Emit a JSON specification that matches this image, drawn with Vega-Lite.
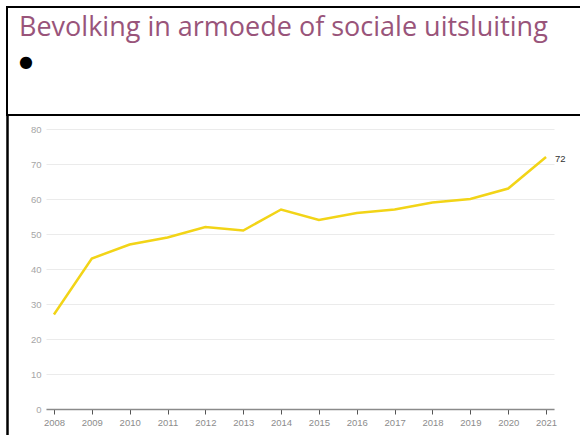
{
  "$schema": "https://vega.github.io/schema/vega-lite/v6.json",
  "padding": {"left": 6, "top": 6, "right": 0, "bottom": 0},
  "background": "white",
  "spacing": 0,
  "bounds": "flush",
  "config": {
    "view": {"stroke": null},
    "font": "Liberation Sans"
  },
  "vconcat": [
    {
      "width": 620,
      "height": 108,
      "data": {"values": []},
      "mark": {"type": "rule"},
      "encoding": {},
      "view": {"stroke": "black", "strokeWidth": 2},
      "title": {
        "text": "Bevolking in armoede of sociale uitsluiting",
        "subtitle": "●",
        "anchor": "start",
        "frame": "group",
        "orient": "top",
        "offset": -64,
        "dx": 12,
        "font": "Open Sans",
        "fontSize": 27,
        "fontWeight": "normal",
        "color": "#99547a",
        "subtitleFont": "DejaVu Sans",
        "subtitleFontSize": 16,
        "subtitleColor": "black",
        "subtitlePadding": 12
      }
    },
    {
      "hconcat": [
        {
          "width": 1,
          "height": 340,
          "data": {"values": []},
          "mark": {"type": "rule"},
          "encoding": {},
          "view": {"stroke": "black", "strokeWidth": 1.5}
        },
        {
          "vconcat": [
            {
              "width": 508,
              "height": 1,
              "data": {"values": []},
              "mark": {"type": "rule"},
              "encoding": {}
            },
            {
              "width": 508,
              "height": 280,
              "data": {
                "values": [
                  {"year": 2008, "value": 27},
                  {"year": 2009, "value": 43},
                  {"year": 2010, "value": 47},
                  {"year": 2011, "value": 49},
                  {"year": 2012, "value": 52},
                  {"year": 2013, "value": 51},
                  {"year": 2014, "value": 57},
                  {"year": 2015, "value": 54},
                  {"year": 2016, "value": 56},
                  {"year": 2017, "value": 57},
                  {"year": 2018, "value": 59},
                  {"year": 2019, "value": 60},
                  {"year": 2020, "value": 63},
                  {"year": 2021, "value": 72}
                ]
              },
              "encoding": {
                "x": {
                  "field": "year",
                  "type": "ordinal",
                  "scale": {"type": "point", "padding": 0.21},
                  "axis": {
                    "title": null,
                    "labelAngle": 0,
                    "labelFontSize": 9.5,
                    "labelColor": "#8c8c8c",
                    "labelPadding": 3,
                    "domainColor": "#8a8a8a",
                    "domainWidth": 1.5,
                    "tickColor": "#555",
                    "tickSize": 5,
                    "grid": false
                  }
                },
                "y": {
                  "field": "value",
                  "type": "quantitative",
                  "scale": {"domain": [0, 80]},
                  "axis": {
                    "title": null,
                    "values": [0, 10, 20, 30, 40, 50, 60, 70, 80],
                    "labelFontSize": 9.5,
                    "labelColor": "#a6a6a6",
                    "labelPadding": 5,
                    "domain": false,
                    "ticks": false,
                    "gridColor": "#ebebeb",
                    "gridWidth": 1
                  }
                }
              },
              "layer": [
                {"mark": {"type": "line", "color": "#f2d417", "strokeWidth": 2.5}},
                {
                  "transform": [{"filter": "datum.year == 2021"}],
                  "mark": {"type": "text", "align": "left", "baseline": "middle", "dx": 9, "dy": 2, "fontSize": 9.5, "color": "#333333"},
                  "encoding": {"text": {"field": "value", "type": "quantitative"}}
                }
              ]
            }
          ],
          "spacing": 13,
          "bounds": "flush"
        }
      ],
      "spacing": 38,
      "bounds": "flush"
    }
  ]
}
